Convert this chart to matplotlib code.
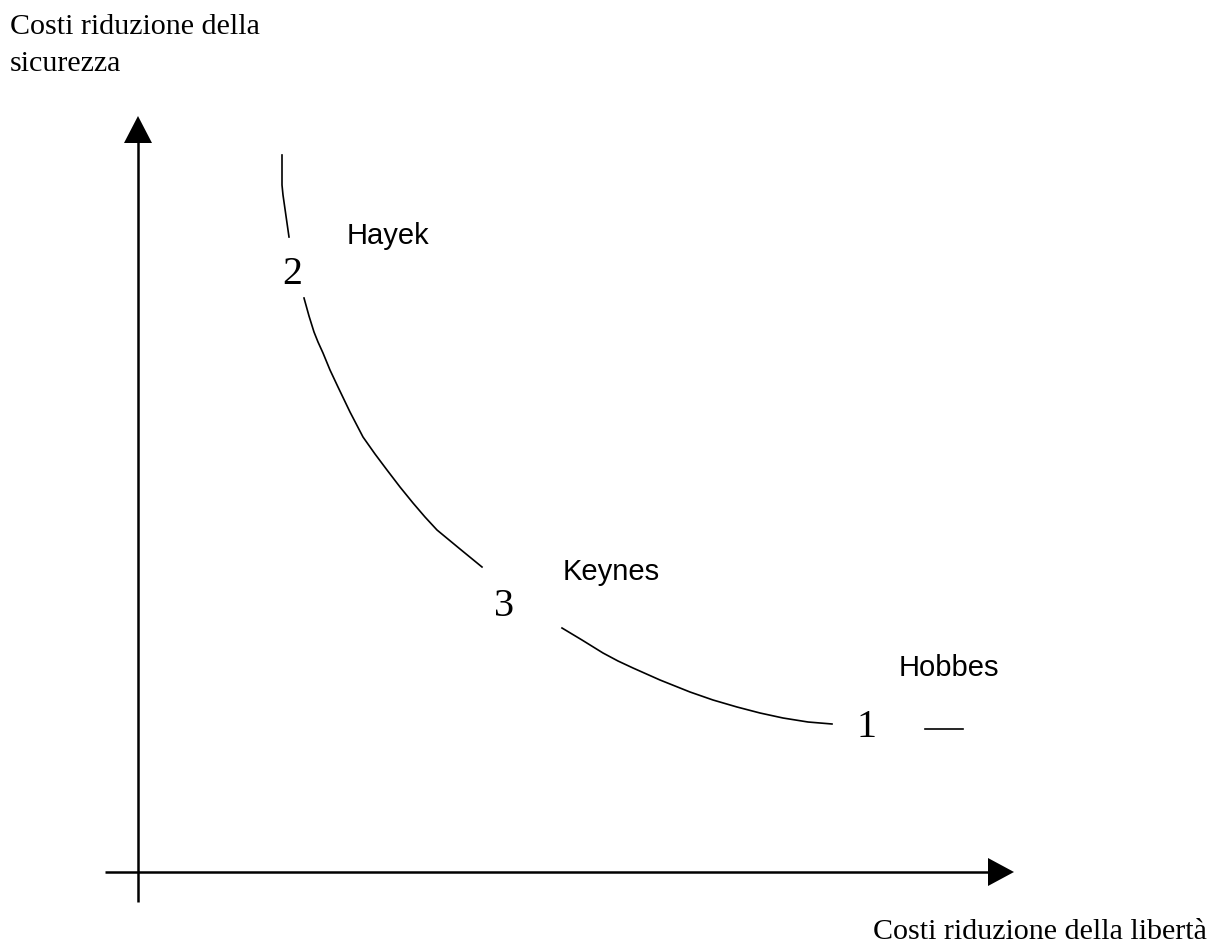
import matplotlib.pyplot as plt

# curve pieces (x, y in picture coordinates, y grows downward)
curve_a_x = [282, 282, 283, 289]
curve_a_y = [155, 185, 195, 237]
curve_b_x = [304, 309, 314, 318, 323, 330, 338, 350, 363, 375, 387, 400, 413, 425, 437, 460, 482]
curve_b_y = [298, 316, 332, 342, 353, 370, 387, 412, 437, 454, 470, 487, 503, 517, 530, 549, 567]
curve_c_x = [562, 582, 603, 618, 633, 660, 690, 713, 737, 760, 783, 808, 832]
curve_c_y = [628, 640, 653, 661, 668, 680, 692, 700, 707, 713, 718, 722, 724]
dash_x = [925, 963]
dash_y = [729, 729]

# point labels
num_labels = ["2", "3", "1"]
num_x = [292, 504, 866]
num_y = [284, 616, 737]
names = ["Hayek", "Keynes", "Hobbes"]
name_x = [347, 563, 899]
name_y = [244, 580, 676]

ylabel_lines = ["Costi riduzione della", "sicurezza"]
ylabel_y = [34, 71]
xlabel = "Costi riduzione della libertà"

serif = "Liberation Serif"
sans = "Liberation Sans"

fig = plt.figure(figsize=(12.08, 9.43), dpi=100)
ax = fig.add_axes([0, 0, 1, 1])
ax.set_xlim(0, 1208)
ax.set_ylim(943, 0)
ax.axis("off")

# axes with arrows
ax.plot([138, 138], [902, 140], color="black", lw=1.8, solid_capstyle="butt")
ax.fill([124, 152, 138], [143, 143, 116], color="black", lw=0)
ax.plot([105, 990], [872, 872], color="black", lw=1.8, solid_capstyle="butt")
ax.fill([988, 988, 1014], [858, 886, 872], color="black", lw=0)

# curve
for xs, ys in [(curve_a_x, curve_a_y), (curve_b_x, curve_b_y),
               (curve_c_x, curve_c_y), (dash_x, dash_y)]:
    ax.plot(xs, ys, color="black", lw=1.2)

for t, x, y in zip(num_labels, num_x, num_y):
    ax.text(x, y, t, fontsize=28.8, family=serif, ha="center", va="baseline")
for t, x, y in zip(names, name_x, name_y):
    ax.text(x, y, t, fontsize=21, family=sans, ha="left", va="baseline")

for t, y in zip(ylabel_lines, ylabel_y):
    ax.text(10, y, t, fontsize=21.6, family=serif, ha="left", va="baseline")
ax.text(1207, 939, xlabel, fontsize=21.6, family=serif, ha="right", va="baseline")

fig.savefig("out.png", dpi=100)
